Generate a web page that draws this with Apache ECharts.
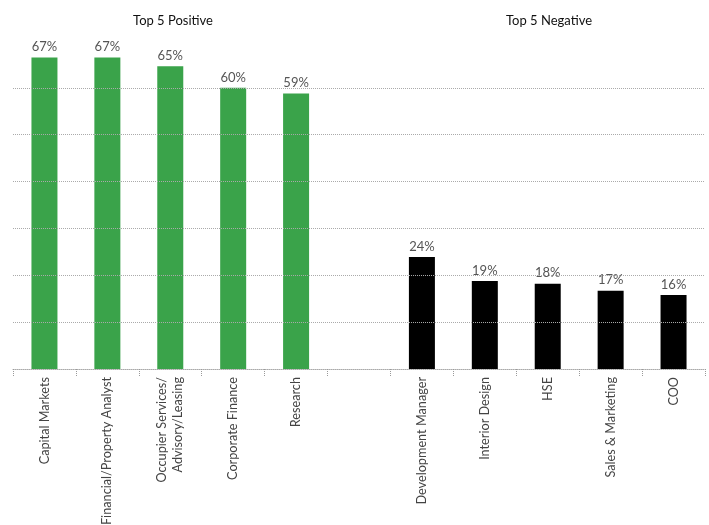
<!DOCTYPE html>
<html>
<head>
<meta charset="utf-8">
<script src="https://cdn.jsdelivr.net/npm/echarts@6/dist/echarts.min.js"></script>
<style>html,body{margin:0;padding:0;background:#fff;}#c{width:709px;height:525px;}</style>
</head>
<body>
<div id="c"></div>
<script>
const categories = ['Capital Markets', 'Financial/Property Analyst', 'Occupier Services/\nAdvisory/Leasing', 'Corporate Finance', 'Research', '', 'Development Manager', 'Interior Design', 'HSE', 'Sales & Marketing', 'COO'];
const positiveValues = [66.5, 66.5, 64.6, 60, 58.8, null, null, null, null, null, null];
const negativeValues = [null, null, null, null, null, null, 23.9, 18.8, 18.2, 16.7, 15.8];
const gridValues = [10, 20, 30, 40, 50, 60];
const titles = ['Top 5 Positive', 'Top 5 Negative'];

const FONT = 'Lato';
const chart = echarts.init(document.getElementById('c'));
const labelCfg = {
  show: true, position: 'top', distance: 4,
  color: '#555', fontFamily: FONT, fontSize: 13,
  formatter: p => Math.round(p.value) + '%'
};
chart.setOption({
  animation: false,
  title: [
    { text: titles[0], left: 168, top: 9, textAlign: 'center',
      textStyle: { fontFamily: FONT, fontSize: 13, fontWeight: 'normal', color: '#111' } },
    { text: titles[1], left: 544, top: 9, textAlign: 'center',
      textStyle: { fontFamily: FONT, fontSize: 13, fontWeight: 'normal', color: '#111' } }
  ],
  grid: { left: 13, right: 4, top: 41, bottom: 156, containLabel: false, outerBoundsMode: 'none' },
  xAxis: {
    type: 'category', data: categories, boundaryGap: true,
    axisLine: { lineStyle: { color: '#aaa', type: 'dotted', width: 1 } },
    axisTick: { show: true, length: 8, lineStyle: { color: '#999', type: 'dotted' } },
    axisLabel: { rotate: 90, interval: 0, margin: 8, color: '#444', fontFamily: FONT, fontSize: 12.7, lineHeight: 16 }
  },
  yAxis: {
    type: 'value', min: 0, max: 70, interval: 10,
    axisLine: { show: false }, axisTick: { show: false }, axisLabel: { show: false },
    splitLine: { show: false }
  },
  series: [
    { type: 'bar', name: 'Positive', data: positiveValues, barWidth: 26, barGap: '-100%',
      itemStyle: { color: '#3aa34a' }, label: labelCfg,
      markLine: { silent: true, symbol: ['none', 'none'], label: { show: false },
        lineStyle: { color: '#aaa', type: 'dotted', width: 1 },
        data: gridValues.map(v => ({ yAxis: v })) }, z: 3 },
    { type: 'bar', name: 'Negative', data: negativeValues, barWidth: 26, barGap: '-100%',
      itemStyle: { color: '#000' }, label: labelCfg, z: 3 }
  ]
});
</script>
</body>
</html>
